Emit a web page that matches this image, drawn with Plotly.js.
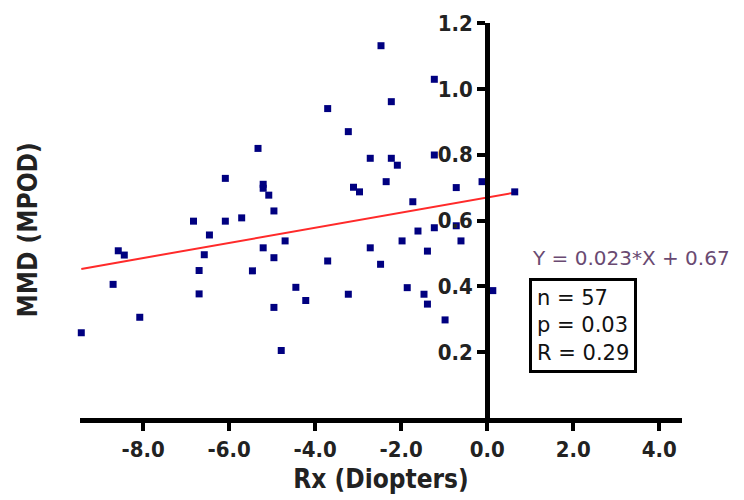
<!DOCTYPE html>
<html>
<head>
<meta charset="utf-8">
<script src="https://cdn.plot.ly/plotly-3.0.1.min.js"></script>
<style>html,body{margin:0;padding:0;background:#fff;}#chart{width:744px;height:500px;}</style>
</head>
<body>
<div id="chart"></div>
<script>
// Refraction (Diopters) vs MMD (MPOD) — 57 subjects
const rx = [
  -9.44, -8.70, -8.58, -8.44, -8.08, -6.09, -6.83, -6.09, -6.46, -6.58, -6.70, -6.70,
  -5.33, -5.21, -5.21, -5.08, -4.96, -5.71, -4.70, -5.21, -4.96, -5.46, -3.71, -4.45,
  -4.22, -4.96, -4.79,
  -2.47, -3.71, -2.23, -3.23, -2.72, -2.23, -2.09, -2.35, -3.11, -2.97, -1.73,
  -1.61, -1.98, -2.72, -1.39, -2.48, -3.23, -1.86, -1.47, -1.39,
  -1.23, -1.23, -0.72, -0.12, 0.64, -1.23, -0.72, -0.61, -0.98, 0.13
];
const mmd = [
  0.259, 0.406, 0.508, 0.495, 0.306, 0.728, 0.598, 0.598, 0.556, 0.496, 0.448, 0.377,
  0.819, 0.710, 0.698, 0.677, 0.629, 0.608, 0.538, 0.517, 0.487, 0.447, 0.477, 0.397,
  0.357, 0.336, 0.205,
  1.131, 0.940, 0.961, 0.870, 0.789, 0.789, 0.768, 0.718, 0.701, 0.687, 0.657,
  0.568, 0.538, 0.517, 0.507, 0.467, 0.376, 0.396, 0.376, 0.346,
  1.029, 0.799, 0.700, 0.718, 0.687, 0.578, 0.584, 0.538, 0.298, 0.387
];
const slope = 0.023;
const intercept = 0.67;
const statsLines = ['n = 57', 'p = 0.03', 'R = 0.29'];
const xTickVals = [-8, -6, -4, -2, 0, 2, 4];
const xTickText = ['-8.0', '-6.0', '-4.0', '-2.0', '0.0', '2.0', '4.0'];
const yTickVals = [0.2, 0.4, 0.6, 0.8, 1.0, 1.2];
const yTickText = ['0.2', '0.4', '0.6', '0.8', '1.0', '1.2'];
const xTitle = 'Rx (Diopters)';
const yTitle = 'MMD (MPOD)';

const xRange = [-9.47, 4.53];
const yRange = [0, 1.2];

const xMin = Math.min(...rx), xMax = Math.max(...rx);
const lineX = [xMin, xMax];
const lineY = lineX.map(v => slope * v + intercept);

const boldFont = {family: 'DejaVu Sans Condensed, DejaVu Sans, sans-serif', weight: 700, color: '#222'};

const traces = [
  {
    x: lineX, y: lineY, type: 'scatter', mode: 'lines',
    line: {color: '#ff2a2a', width: 2}, hoverinfo: 'skip', cliponaxis: false
  },
  {
    x: rx, y: mmd, type: 'scatter', mode: 'markers',
    marker: {symbol: 'square', size: 7, color: '#000080'}, cliponaxis: false
  }
];

const layout = {
  width: 744, height: 500,
  margin: {l: 80, r: 62, t: 23, b: 82},
  paper_bgcolor: '#fff', plot_bgcolor: '#fff',
  showlegend: false,
  xaxis: {
    range: xRange, showgrid: false, zeroline: false,
    showline: true, linecolor: '#000', linewidth: 5,
    ticks: 'outside', ticklen: 8, tickwidth: 4, tickcolor: '#000',
    tickvals: xTickVals, ticktext: xTickText,
    tickfont: Object.assign({size: 22}, boldFont),
    title: {text: xTitle, font: Object.assign({size: 26}, boldFont), standoff: 10}
  },
  yaxis: {
    range: yRange, showgrid: false, zeroline: false,
    anchor: 'free', position: (0 - xRange[0]) / (xRange[1] - xRange[0]),
    showline: true, linecolor: '#000', linewidth: 5,
    ticks: 'outside', ticklen: 8, tickwidth: 4, tickcolor: '#000',
    tickvals: yTickVals, ticktext: yTickText,
    tickfont: Object.assign({size: 22}, boldFont)
  },
  annotations: [
    {
      xref: 'paper', yref: 'paper', x: -0.086, y: 0.475,
      text: yTitle, textangle: -90, showarrow: false,
      xanchor: 'center', yanchor: 'middle',
      font: Object.assign({size: 26}, boldFont)
    },
    {
      xref: 'x', yref: 'y', x: 1.0, y: 0.485,
      text: 'Y = ' + slope + '*X + ' + intercept, showarrow: false,
      xanchor: 'left', yanchor: 'middle',
      font: {family: 'DejaVu Sans, sans-serif', size: 20, color: '#6a4a72'}
    },
    {
      xref: 'x', yref: 'y', x: 2.23, y: 0.281,
      text: statsLines.join('<br>'), showarrow: false, align: 'left',
      xanchor: 'center', yanchor: 'middle',
      bordercolor: '#000', borderwidth: 3, borderpad: 5, bgcolor: '#fff',
      font: {family: 'DejaVu Sans, sans-serif', size: 21, color: '#111'}
    }
  ]
};

Plotly.newPlot('chart', traces, layout, {staticPlot: true, displayModeBar: false});
</script>
</body>
</html>
